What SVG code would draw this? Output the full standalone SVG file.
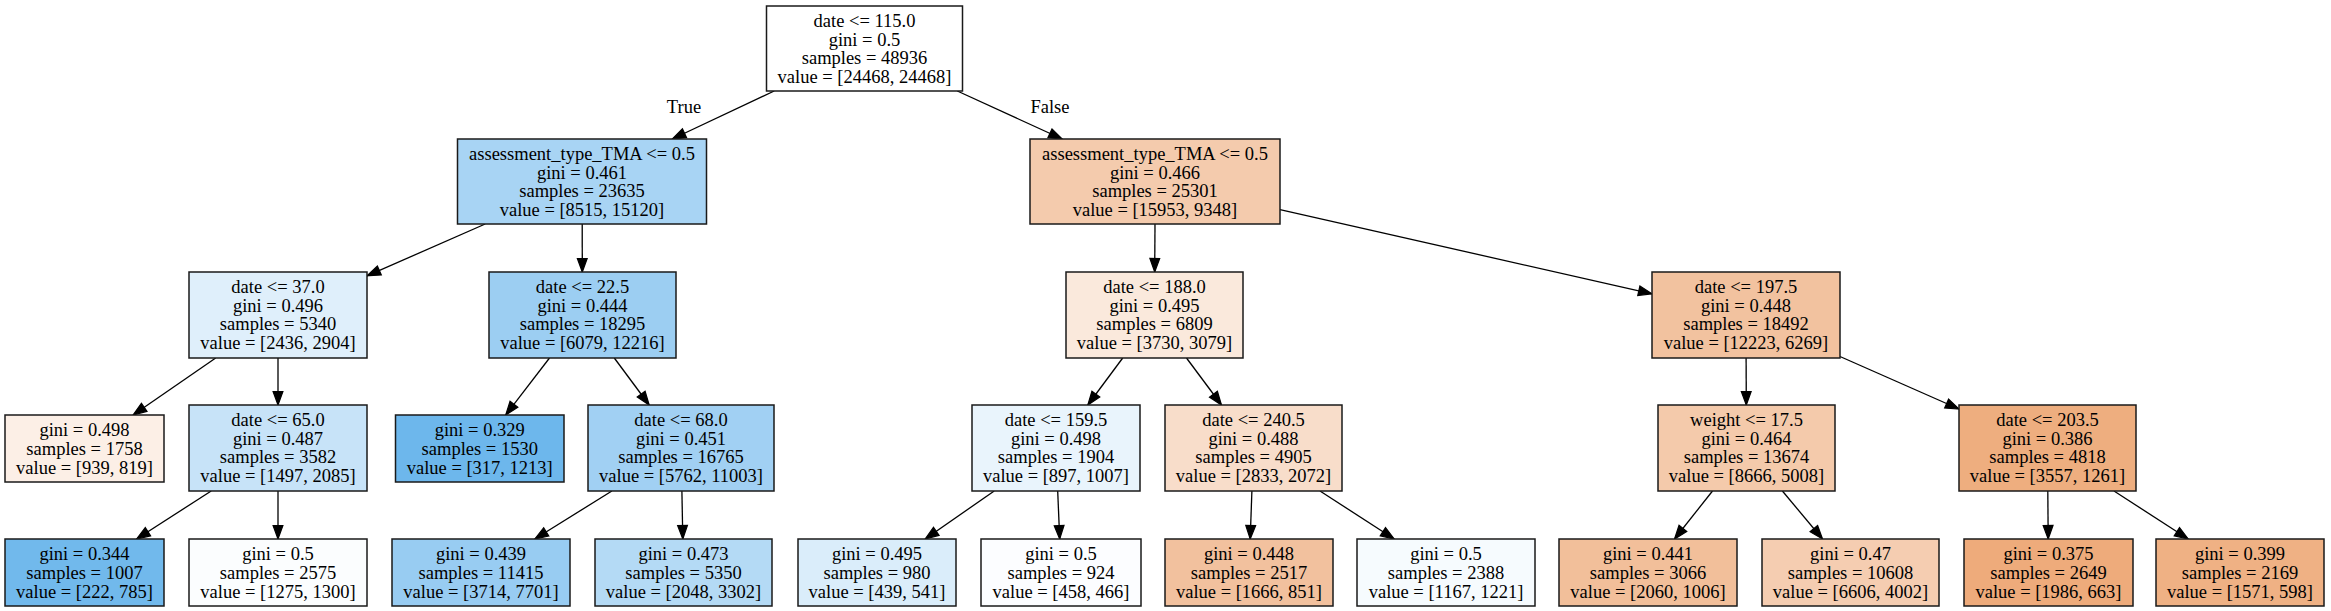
<svg xmlns="http://www.w3.org/2000/svg" width="2331" height="611" viewBox="0 0 2331 611">
<style>
  .bg { fill: #ffffff; }
  .node rect { stroke: #1a1a1a; stroke-width: 1.5; }
  text { font-family: "Liberation Serif", "Times New Roman", serif; font-size: 18.5px; fill: #000000; text-anchor: middle; }
  .edge { stroke: #000000; stroke-width: 1.3; fill: none; marker-end: url(#arrow); }
</style>
<defs>
  <marker id="arrow" markerUnits="userSpaceOnUse" markerWidth="18" markerHeight="14" refX="13.5" refY="4.9" orient="auto" overflow="visible">
    <path d="M0,0 L13.5,4.9 L0,9.8 Z" fill="#000000" stroke="#000000" stroke-width="1.2"/>
  </marker>
</defs>
<rect class="bg" x="0" y="0" width="2331" height="611"/>

<g id="edges">
  <line class="edge" x1="774.2" y1="91" x2="672.3" y2="139"/>
  <line class="edge" x1="957.3" y1="91" x2="1062.2" y2="139"/>
  <line class="edge" x1="485.2" y1="224" x2="367" y2="275.9"/>
  <line class="edge" x1="582.2" y1="224" x2="582.3" y2="272"/>
  <line class="edge" x1="1155" y1="224" x2="1154.7" y2="272"/>
  <line class="edge" x1="1280" y1="209.7" x2="1652" y2="293.8"/>
  <line class="edge" x1="215.7" y1="358" x2="133.1" y2="415"/>
  <line class="edge" x1="278" y1="358" x2="278" y2="405"/>
  <line class="edge" x1="549.5" y1="358" x2="505.7" y2="415"/>
  <line class="edge" x1="614.3" y1="358" x2="649.2" y2="405"/>
  <line class="edge" x1="1122.7" y1="358" x2="1087.8" y2="405"/>
  <line class="edge" x1="1186.5" y1="358" x2="1221.5" y2="405"/>
  <line class="edge" x1="1746.1" y1="358" x2="1746.3" y2="405"/>
  <line class="edge" x1="1840" y1="356.5" x2="1959" y2="409"/>
  <line class="edge" x1="211.2" y1="491" x2="136.6" y2="539"/>
  <line class="edge" x1="278" y1="491" x2="278" y2="539"/>
  <line class="edge" x1="611.9" y1="491" x2="534.8" y2="539"/>
  <line class="edge" x1="681.9" y1="491" x2="682.8" y2="539"/>
  <line class="edge" x1="994.2" y1="491" x2="925.2" y2="539"/>
  <line class="edge" x1="1057.7" y1="491" x2="1059.7" y2="539"/>
  <line class="edge" x1="1251.9" y1="491" x2="1250.2" y2="539"/>
  <line class="edge" x1="1320" y1="491" x2="1394.2" y2="539"/>
  <line class="edge" x1="1712.5" y1="491" x2="1674.5" y2="539"/>
  <line class="edge" x1="1782.4" y1="491" x2="1822.5" y2="539"/>
  <line class="edge" x1="2047.8" y1="491" x2="2048.2" y2="539"/>
  <line class="edge" x1="2114" y1="491" x2="2188.2" y2="539"/>
  <text x="684" y="113">True</text>
  <text x="1050" y="113">False</text>
</g>

<g id="node-root" class="node">
  <rect x="766.5" y="6" width="196" height="85" fill="#ffffff"/>
  <text x="864.5" y="26.85">date &lt;= 115.0</text>
  <text x="864.5" y="45.65">gini = 0.5</text>
  <text x="864.5" y="64.45">samples = 48936</text>
  <text x="864.5" y="83.25">value = [24468, 24468]</text>
</g>

<g id="node-1" class="node">
  <rect x="457.5" y="139" width="249" height="85" fill="#a8d4f4"/>
  <text x="582" y="159.85">assessment_type_TMA &lt;= 0.5</text>
  <text x="582" y="178.65">gini = 0.461</text>
  <text x="582" y="197.45">samples = 23635</text>
  <text x="582" y="216.25">value = [8515, 15120]</text>
</g>

<g id="node-2" class="node">
  <rect x="1030" y="139" width="250" height="85" fill="#f4cbad"/>
  <text x="1155" y="159.85">assessment_type_TMA &lt;= 0.5</text>
  <text x="1155" y="178.65">gini = 0.466</text>
  <text x="1155" y="197.45">samples = 25301</text>
  <text x="1155" y="216.25">value = [15953, 9348]</text>
</g>

<g id="node-3" class="node">
  <rect x="189" y="272" width="178" height="86" fill="#dfeffb"/>
  <text x="278" y="292.85">date &lt;= 37.0</text>
  <text x="278" y="311.65">gini = 0.496</text>
  <text x="278" y="330.45">samples = 5340</text>
  <text x="278" y="349.25">value = [2436, 2904]</text>
</g>

<g id="node-4" class="node">
  <rect x="489" y="272" width="187" height="86" fill="#9ccef2"/>
  <text x="582.5" y="292.85">date &lt;= 22.5</text>
  <text x="582.5" y="311.65">gini = 0.444</text>
  <text x="582.5" y="330.45">samples = 18295</text>
  <text x="582.5" y="349.25">value = [6079, 12216]</text>
</g>

<g id="node-5" class="node">
  <rect x="1066" y="272" width="177" height="86" fill="#fae9dc"/>
  <text x="1154.5" y="292.85">date &lt;= 188.0</text>
  <text x="1154.5" y="311.65">gini = 0.495</text>
  <text x="1154.5" y="330.45">samples = 6809</text>
  <text x="1154.5" y="349.25">value = [3730, 3079]</text>
</g>

<g id="node-6" class="node">
  <rect x="1652" y="272" width="188" height="86" fill="#f2c29f"/>
  <text x="1746" y="292.85">date &lt;= 197.5</text>
  <text x="1746" y="311.65">gini = 0.448</text>
  <text x="1746" y="330.45">samples = 18492</text>
  <text x="1746" y="349.25">value = [12223, 6269]</text>
</g>

<g id="node-7" class="node">
  <rect x="5" y="415" width="159" height="67" fill="#fcefe6"/>
  <text x="84.5" y="436">gini = 0.498</text>
  <text x="84.5" y="454.8">samples = 1758</text>
  <text x="84.5" y="473.6">value = [939, 819]</text>
</g>

<g id="node-8" class="node">
  <rect x="189" y="405" width="178" height="86" fill="#c7e3f8"/>
  <text x="278" y="425.85">date &lt;= 65.0</text>
  <text x="278" y="444.65">gini = 0.487</text>
  <text x="278" y="463.45">samples = 3582</text>
  <text x="278" y="482.25">value = [1497, 2085]</text>
</g>

<g id="node-9" class="node">
  <rect x="395.5" y="415" width="168.5" height="67" fill="#6db7ec"/>
  <text x="479.75" y="436">gini = 0.329</text>
  <text x="479.75" y="454.8">samples = 1530</text>
  <text x="479.75" y="473.6">value = [317, 1213]</text>
</g>

<g id="node-10" class="node">
  <rect x="588" y="405" width="186" height="86" fill="#a1d0f3"/>
  <text x="681" y="425.85">date &lt;= 68.0</text>
  <text x="681" y="444.65">gini = 0.451</text>
  <text x="681" y="463.45">samples = 16765</text>
  <text x="681" y="482.25">value = [5762, 11003]</text>
</g>

<g id="node-11" class="node">
  <rect x="972" y="405" width="168" height="86" fill="#e9f4fc"/>
  <text x="1056" y="425.85">date &lt;= 159.5</text>
  <text x="1056" y="444.65">gini = 0.498</text>
  <text x="1056" y="463.45">samples = 1904</text>
  <text x="1056" y="482.25">value = [897, 1007]</text>
</g>

<g id="node-12" class="node">
  <rect x="1165" y="405" width="177" height="86" fill="#f8ddca"/>
  <text x="1253.5" y="425.85">date &lt;= 240.5</text>
  <text x="1253.5" y="444.65">gini = 0.488</text>
  <text x="1253.5" y="463.45">samples = 4905</text>
  <text x="1253.5" y="482.25">value = [2833, 2072]</text>
</g>

<g id="node-13" class="node">
  <rect x="1658" y="405" width="177" height="86" fill="#f4caab"/>
  <text x="1746.5" y="425.85">weight &lt;= 17.5</text>
  <text x="1746.5" y="444.65">gini = 0.464</text>
  <text x="1746.5" y="463.45">samples = 13674</text>
  <text x="1746.5" y="482.25">value = [8666, 5008]</text>
</g>

<g id="node-14" class="node">
  <rect x="1959" y="405" width="177" height="86" fill="#eeae7f"/>
  <text x="2047.5" y="425.85">date &lt;= 203.5</text>
  <text x="2047.5" y="444.65">gini = 0.386</text>
  <text x="2047.5" y="463.45">samples = 4818</text>
  <text x="2047.5" y="482.25">value = [3557, 1261]</text>
</g>

<g id="node-15" class="node">
  <rect x="5" y="539" width="159" height="67" fill="#71b9ec"/>
  <text x="84.5" y="560">gini = 0.344</text>
  <text x="84.5" y="578.8">samples = 1007</text>
  <text x="84.5" y="597.6">value = [222, 785]</text>
</g>

<g id="node-16" class="node">
  <rect x="189" y="539" width="178" height="67" fill="#fbfdfe"/>
  <text x="278" y="560">gini = 0.5</text>
  <text x="278" y="578.8">samples = 2575</text>
  <text x="278" y="597.6">value = [1275, 1300]</text>
</g>

<g id="node-17" class="node">
  <rect x="392" y="539" width="178" height="67" fill="#98ccf2"/>
  <text x="481" y="560">gini = 0.439</text>
  <text x="481" y="578.8">samples = 11415</text>
  <text x="481" y="597.6">value = [3714, 7701]</text>
</g>

<g id="node-18" class="node">
  <rect x="595" y="539" width="177" height="67" fill="#b4daf5"/>
  <text x="683.5" y="560">gini = 0.473</text>
  <text x="683.5" y="578.8">samples = 5350</text>
  <text x="683.5" y="597.6">value = [2048, 3302]</text>
</g>

<g id="node-19" class="node">
  <rect x="798" y="539" width="158" height="67" fill="#daedfa"/>
  <text x="877" y="560">gini = 0.495</text>
  <text x="877" y="578.8">samples = 980</text>
  <text x="877" y="597.6">value = [439, 541]</text>
</g>

<g id="node-20" class="node">
  <rect x="981" y="539" width="160" height="67" fill="#fcfdff"/>
  <text x="1061" y="560">gini = 0.5</text>
  <text x="1061" y="578.8">samples = 924</text>
  <text x="1061" y="597.6">value = [458, 466]</text>
</g>

<g id="node-21" class="node">
  <rect x="1165" y="539" width="168" height="67" fill="#f2c19e"/>
  <text x="1249" y="560">gini = 0.448</text>
  <text x="1249" y="578.8">samples = 2517</text>
  <text x="1249" y="597.6">value = [1666, 851]</text>
</g>

<g id="node-22" class="node">
  <rect x="1357" y="539" width="178" height="67" fill="#f6fbfe"/>
  <text x="1446" y="560">gini = 0.5</text>
  <text x="1446" y="578.8">samples = 2388</text>
  <text x="1446" y="597.6">value = [1167, 1221]</text>
</g>

<g id="node-23" class="node">
  <rect x="1559" y="539" width="178" height="67" fill="#f2bf9a"/>
  <text x="1648" y="560">gini = 0.441</text>
  <text x="1648" y="578.8">samples = 3066</text>
  <text x="1648" y="597.6">value = [2060, 1006]</text>
</g>

<g id="node-24" class="node">
  <rect x="1762" y="539" width="177" height="67" fill="#f5cdb1"/>
  <text x="1850.5" y="560">gini = 0.47</text>
  <text x="1850.5" y="578.8">samples = 10608</text>
  <text x="1850.5" y="597.6">value = [6606, 4002]</text>
</g>

<g id="node-25" class="node">
  <rect x="1964" y="539" width="169" height="67" fill="#eeab7b"/>
  <text x="2048.5" y="560">gini = 0.375</text>
  <text x="2048.5" y="578.8">samples = 2649</text>
  <text x="2048.5" y="597.6">value = [1986, 663]</text>
</g>

<g id="node-26" class="node">
  <rect x="2156" y="539" width="168" height="67" fill="#efb184"/>
  <text x="2240" y="560">gini = 0.399</text>
  <text x="2240" y="578.8">samples = 2169</text>
  <text x="2240" y="597.6">value = [1571, 598]</text>
</g>
</svg>
